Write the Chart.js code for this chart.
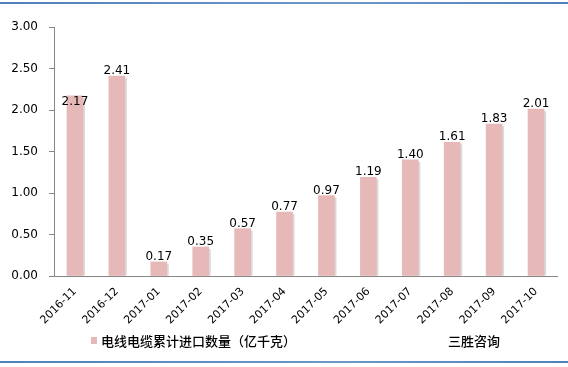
<!DOCTYPE html>
<html>
<head>
<meta charset="utf-8">
<script src="https://cdn.jsdelivr.net/npm/chart.js@4.4.0/dist/chart.umd.min.js"></script>
<style>
  html, body { margin: 0; padding: 0; background: #fff; }
  #wrap { position: relative; width: 568px; height: 367px; }
  #wrap:before, #wrap:after {
    content: ''; position: absolute; left: 0; right: 0; height: 2px;
    background: linear-gradient(90deg, #4f81bd, #6f97c8 60%, #4f81bd);
  }
  #wrap:before { top: 2px; }
  #wrap:after { top: 361px; }
</style>
</head>
<body>
<div id="wrap"><canvas id="c" width="568" height="367"></canvas></div>
<script>
const categories = ['2016-11', '2016-12', '2017-01', '2017-02', '2017-03', '2017-04',
  '2017-05', '2017-06', '2017-07', '2017-08', '2017-09', '2017-10'];
const values = [2.17, 2.41, 0.17, 0.35, 0.57, 0.77, 0.97, 1.19, 1.40, 1.61, 1.83, 2.01];
const seriesName = '电线电缆累计进口数量（亿千克）';
const sourceText = '三胜咨询';
const yTicks = [0, 0.5, 1, 1.5, 2, 2.5, 3];

const NUM_FONT = '"DejaVu Sans", Verdana, sans-serif';
const CJK_FONT = '"Noto Sans CJK SC", "Microsoft YaHei", sans-serif';

// shadow behind each bar + value labels + bottom legend
const barExtras = {
  id: 'barExtras',
  beforeDatasetsDraw(chart) {
    const ctx = chart.ctx;
    const meta = chart.getDatasetMeta(0);
    ctx.save();
    meta.data.forEach(bar => {
      const w = bar.width;
      ctx.fillStyle = 'rgba(170,170,170,0.45)';
      ctx.fillRect(bar.x - w / 2 + 2, bar.y + 2, w, bar.base - bar.y - 2);
    });
    ctx.restore();
  },
  afterDatasetsDraw(chart) {
    const ctx = chart.ctx;
    const meta = chart.getDatasetMeta(0);
    ctx.save();
    ctx.font = '12px ' + NUM_FONT;
    ctx.fillStyle = '#000';
    ctx.textAlign = 'center';
    ctx.textBaseline = 'bottom';
    meta.data.forEach((bar, i) => {
      // first label sits lower, overlapping its bar, like the original
      const dy = i === 0 ? 12 : 1;
      ctx.fillText(values[i].toFixed(2), bar.x, bar.y + dy);
    });
    ctx.restore();
  },
  afterDraw(chart) {
    const ctx = chart.ctx;
    ctx.save();
    ctx.fillStyle = '#e6b9b8';
    ctx.fillRect(91, 337, 6, 7);
    ctx.font = '500 13px ' + CJK_FONT;
    ctx.fillStyle = '#000';
    ctx.textBaseline = 'middle';
    ctx.fillText(seriesName, 101, 341);
    ctx.fillText(sourceText, 448, 341);
    ctx.restore();
  }
};

new Chart(document.getElementById('c'), {
  type: 'bar',
  data: {
    labels: categories,
    datasets: [{
      label: seriesName,
      data: values,
      backgroundColor: '#e6b9b8',
      barThickness: 16
    }]
  },
  options: {
    responsive: false,
    animation: false,
    layout: { padding: { top: 27, right: 11, bottom: 36, left: 0 } },
    plugins: { legend: { display: false }, tooltip: { enabled: false } },
    scales: {
      x: {
        grid: { display: false, drawOnChartArea: false, tickLength: 5, color: '#868686', offset: true },
        border: { color: '#868686' },
        ticks: {
          color: '#000', maxRotation: 45, minRotation: 45, padding: 4,
          font: { size: 11, family: NUM_FONT }
        },
        afterFit: s => { s.height = 55; }
      },
      y: {
        min: 0, max: 3,
        afterBuildTicks: s => { s.ticks = yTicks.map(v => ({ value: v })); },
        grid: { drawOnChartArea: false, tickLength: 5, color: '#868686' },
        border: { color: '#868686' },
        ticks: {
          color: '#000', padding: 11,
          font: { size: 12, family: NUM_FONT },
          callback: v => v.toFixed(2)
        },
        afterFit: s => { s.width = 54; }
      }
    }
  },
  plugins: [barExtras]
});
</script>
</body>
</html>
